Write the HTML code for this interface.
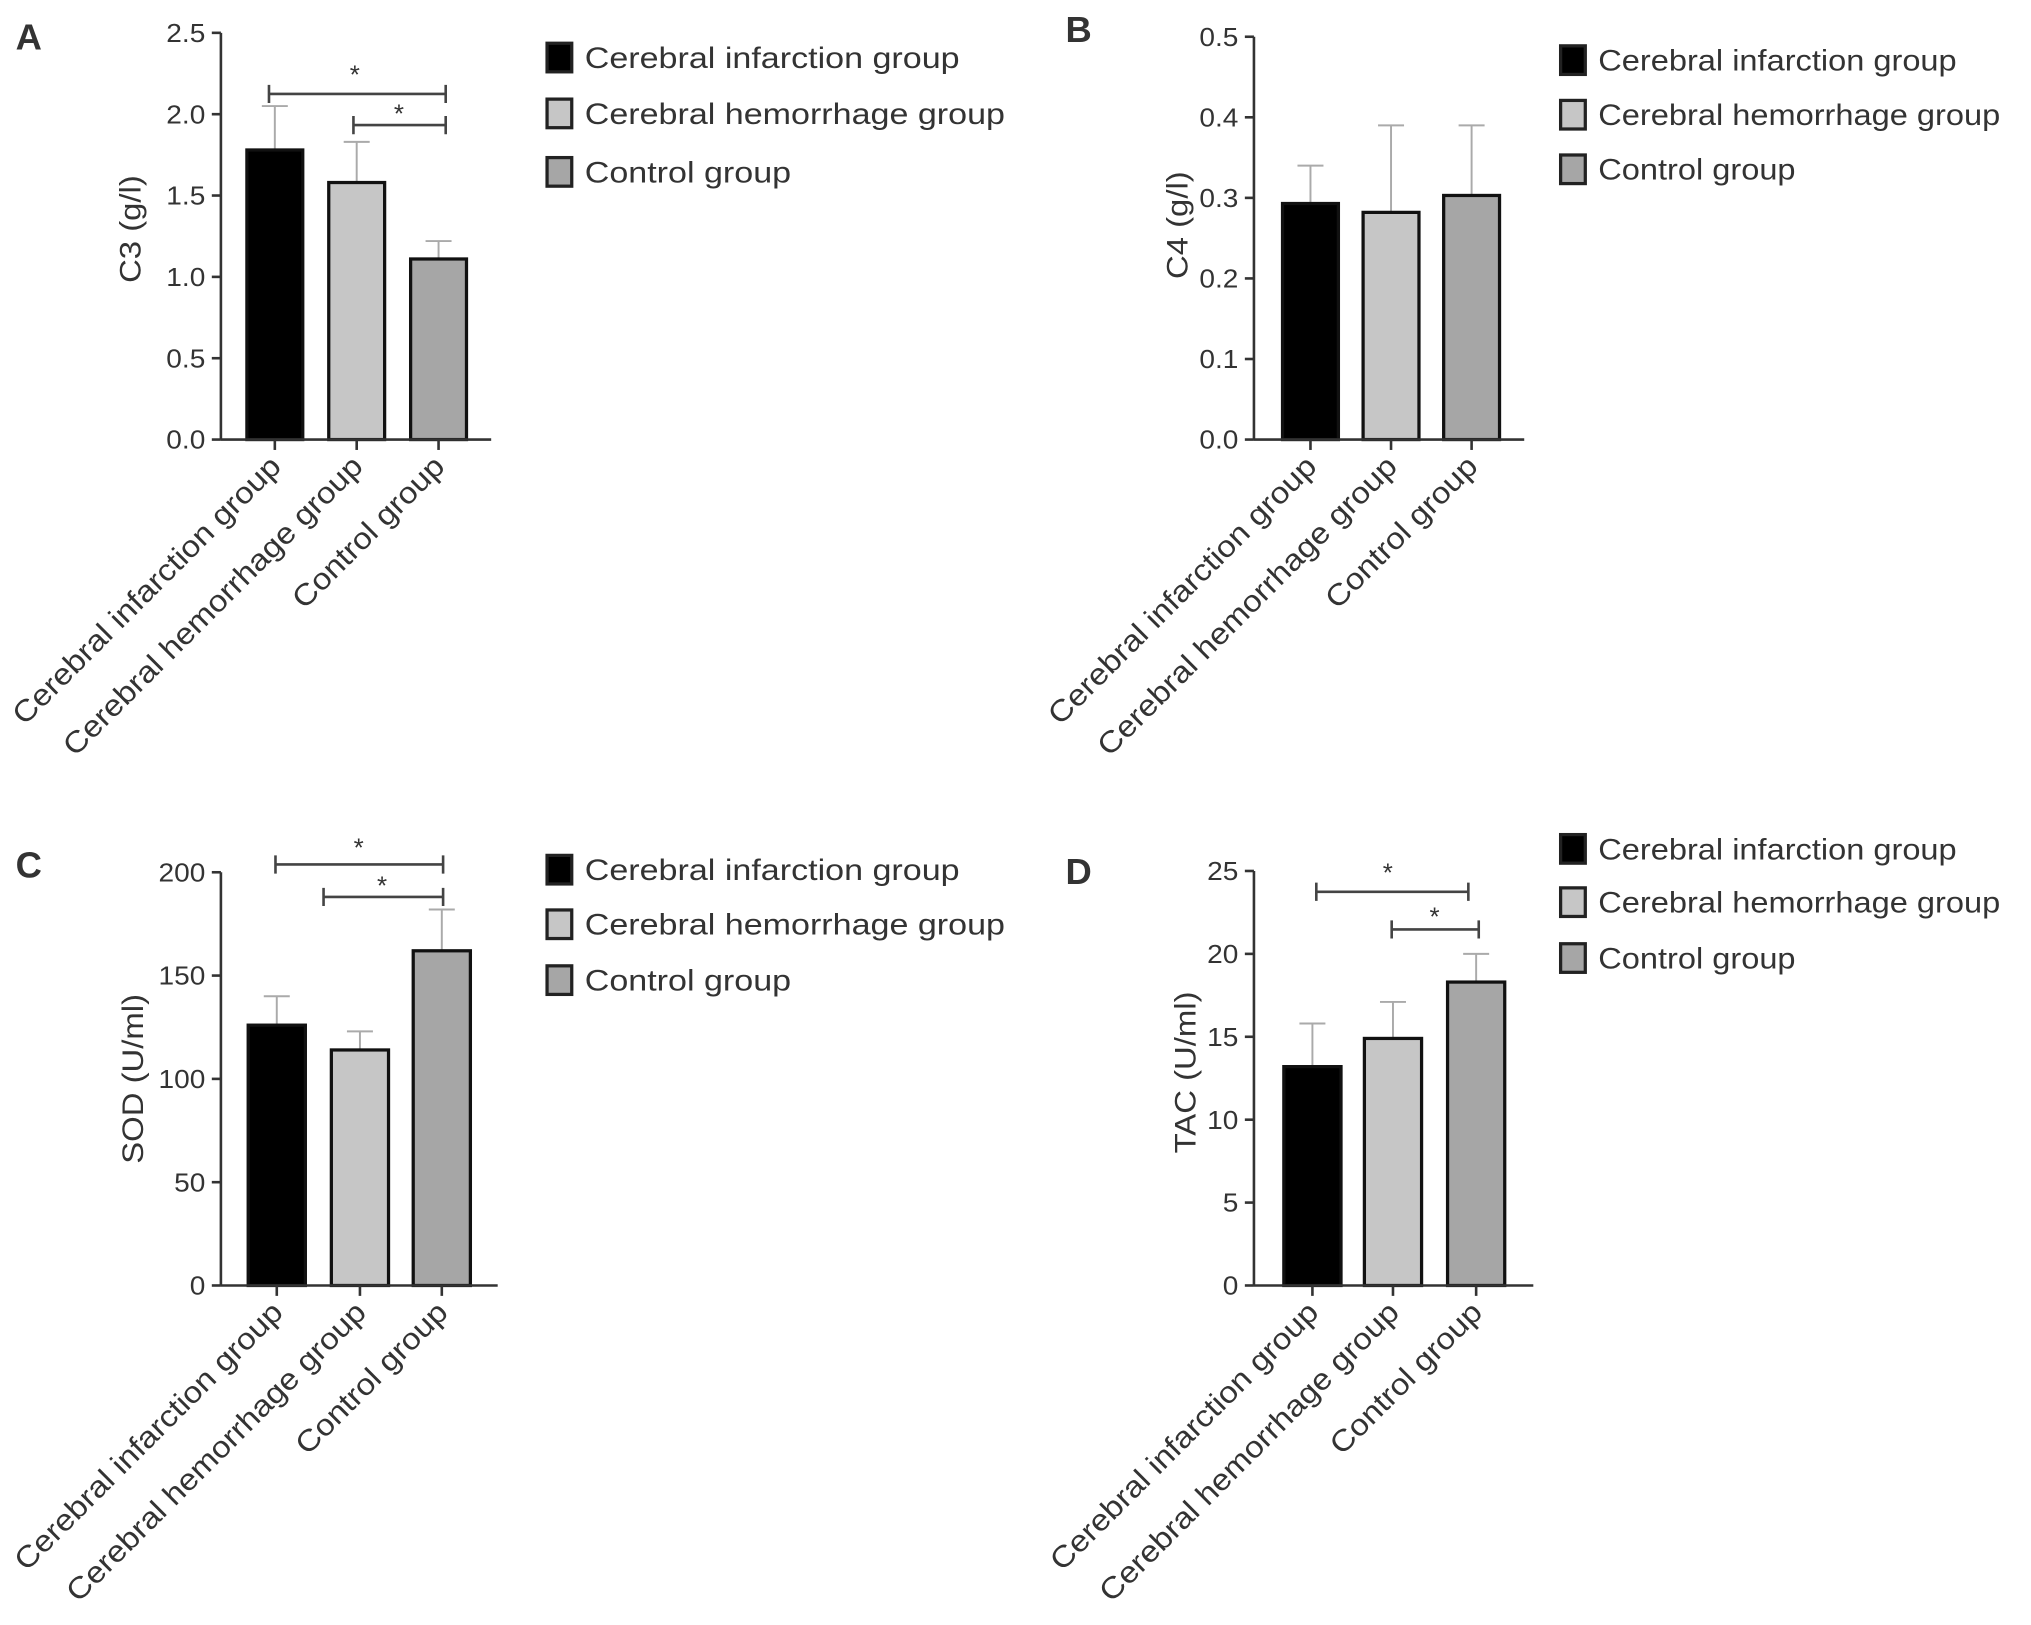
<!DOCTYPE html>
<html><head><meta charset="utf-8">
<style>
html,body{margin:0;padding:0;background:#fff;}
svg{display:block;}
text{font-family:"Liberation Sans",Arial,sans-serif;fill:#333;}
</style></head>
<body>
<svg id="fig" width="2031" height="1625" viewBox="0 0 1563 1250" xmlns="http://www.w3.org/2000/svg"></svg>
<script>
const categories = ["Cerebral infarction group","Cerebral hemorrhage group","Control group"];
const c3Values = [1.78, 1.58, 1.11];
const c3Errors = [2.05, 1.83, 1.22];
const c3Ticks = ["0.0","0.5","1.0","1.5","2.0","2.5"];
const c4Values = [0.293, 0.282, 0.303];
const c4Errors = [0.34, 0.39, 0.39];
const c4Ticks = ["0.0","0.1","0.2","0.3","0.4","0.5"];
const sodValues = [126, 114, 162];
const sodErrors = [140, 123, 182];
const sodTicks = ["0","50","100","150","200"];
const tacValues = [13.2, 14.9, 18.3];
const tacErrors = [15.8, 17.1, 20.0];
const tacTicks = ["0","5","10","15","20","25"];

const NS="http://www.w3.org/2000/svg";
const svg=document.getElementById('fig');
const fills=["#000000","#c6c6c6","#a6a6a6"];
function mk(tag,attrs,parent,txt){const e=document.createElementNS(NS,tag);for(const k in attrs)e.setAttribute(k,attrs[k]);if(txt!==undefined)e.textContent=txt;(parent||svg).appendChild(e);return e;}
function widen(el,f){const w=el.getComputedTextLength();el.setAttribute('textLength',(w*f).toFixed(1));el.setAttribute('lengthAdjust','spacingAndGlyphs');}

const panels=[
 {id:'a',letter:'A',lx:12,ly:38,ax:170,top:25,bot:338,right:378,max:2.5,ticks:c3Ticks,vals:c3Values,errs:c3Errors,bars:[190,253,316],bw:43,title:'C3 (g/l)',tx:108,ty:176,
  legX:420,legY:[44,87,132],legF:1.14,sig:[[0,2,72,273,64],[1,2,96,307,94]],sigX:[[207,343],[272,343]]},
 {id:'b',letter:'B',lx:820,ly:32,ax:965,top:28,bot:338,right:1173,max:0.5,ticks:c4Ticks,vals:c4Values,errs:c4Errors,bars:[987,1049,1111],bw:43,title:'C4 (g/l)',tx:914,ty:173,
  legX:1200,legY:[46,88,130],legF:1.09,sig:[],sigX:[]},
 {id:'c',letter:'C',lx:12,ly:675,ax:170,top:671,bot:989,right:383,max:200,ticks:sodTicks,vals:sodValues,errs:sodErrors,bars:[191,255,318],bw:44,title:'SOD (U/ml)',tx:110,ty:830,
  legX:420,legY:[669,711,754],legF:1.14,sig:[[0,2,665,276,659],[1,2,690,294,688]],sigX:[[212,341],[249,341]]},
 {id:'d',letter:'D',lx:820,ly:680,ax:965,top:670,bot:989,right:1180,max:25,ticks:tacTicks,vals:tacValues,errs:tacErrors,bars:[988,1050,1114],bw:44,title:'TAC (U/ml)',tx:920,ty:825,
  legX:1200,legY:[653,694,737],legF:1.09,sig:[[0,2,686,1068,678],[1,2,715,1104,712]],sigX:[[1013,1130],[1071,1138]]}
];

panels.forEach(p=>{
  const g=mk('g',{});
  
  
  const y=v=>p.bot-(v/p.max)*(p.bot-p.top);
  const lt=mk('text',{x:p.lx,y:p.ly,'font-size':28,fill:'#222','font-weight':'600'},g,p.letter);
  
  
  p.vals.forEach((v,i)=>{
    const x=p.bars[i], cx=x+p.bw/2;
    const e=mk('line',{x1:cx,x2:cx,y1:y(v),y2:y(p.errs[i]),stroke:'#aaa','stroke-width':1.5},g);
    
    
    mk('line',{x1:cx-10,x2:cx+10,y1:y(p.errs[i]),y2:y(p.errs[i]),stroke:'#aaa','stroke-width':1.5},g);
    const r=mk('rect',{x:x,y:y(v),width:p.bw,height:p.bot-y(v),fill:fills[i],stroke:'#111','stroke-width':2.5},g);
    
    
  });
  const ya=mk('line',{x1:p.ax,x2:p.ax,y1:p.top,y2:p.bot,stroke:'#333','stroke-width':2},g);
  
  
  const xa=mk('line',{x1:p.ax,x2:p.right,y1:p.bot,y2:p.bot,stroke:'#333','stroke-width':2},g);
  
  
  p.ticks.forEach((t,k)=>{
    const v=parseFloat(t), yy=y(v);
    mk('line',{x1:p.ax-7,x2:p.ax,y1:yy,y2:yy,stroke:'#333','stroke-width':2},g);
    const tl=mk('text',{x:p.ax-12,y:yy+7,'font-size':20,'text-anchor':'end'},g,t);
    
    
    widen(tl,1.08);
  });
  categories.forEach((c,i)=>{
    const cx=p.bars[i]+p.bw/2;
    mk('line',{x1:cx,x2:cx,y1:p.bot,y2:p.bot+8,stroke:'#333','stroke-width':2},g);
    const xl=mk('text',{x:cx+6,y:p.bot+22,'font-size':23,'text-anchor':'end',transform:`rotate(-45 ${cx+6} ${p.bot+22})`},g,c);
    
    
    widen(xl,1.11);
  });
  const tt=mk('text',{x:p.tx,y:p.ty,'font-size':23,'text-anchor':'middle',transform:`rotate(-90 ${p.tx} ${p.ty})`},g,p.title);
  
  
  widen(tt,1.1);
  p.sig.forEach((s,k)=>{
    const [x1,x2]=p.sigX[k], yy=s[2];
    const sl=mk('path',{d:`M${x1} ${yy-7}V${yy+7}M${x1} ${yy}H${x2}M${x2} ${yy-7}V${yy+7}`,stroke:'#444','stroke-width':2,fill:'none'},g);
    
    
    const st=mk('text',{x:s[3],y:s[4],'font-size':20,'text-anchor':'middle'},g,'*');
    
    
  });
  categories.forEach((c,i)=>{
    const yy=p.legY[i];
    const lg=mk('g',{},g);
    
    
    mk('rect',{x:p.legX+1,y:yy-11,width:19,height:22,fill:fills[i],stroke:'#222','stroke-width':2.5},lg);
    const lx=mk('text',{x:p.legX+30,y:yy+8,'font-size':23,fill:'#444'},lg,c);
    widen(lx,p.legF);
  });
});
</script>
</body></html>
